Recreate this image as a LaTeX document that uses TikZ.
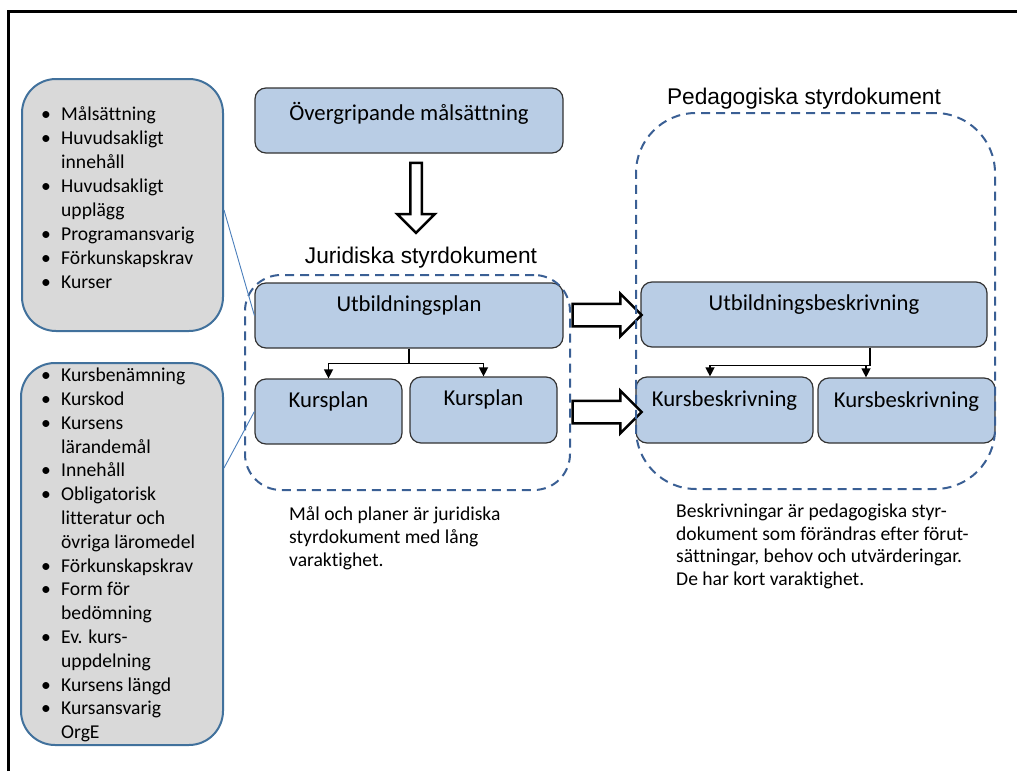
\documentclass[tikz,border=0pt]{standalone}
\usepackage{fontspec}
\setmainfont{Carlito}[Ligatures={NoCommon}]
\newfontfamily\arialfont{Liberation Sans}
\usetikzlibrary{arrows.meta,shapes.arrows}

\definecolor{boxblue}{HTML}{B9CDE5}
\definecolor{boxgray}{HTML}{D9D9D9}
\definecolor{edgeblue}{HTML}{41719C}
\definecolor{dashblue}{HTML}{3A5F94}
\definecolor{linkblue}{HTML}{4A7EBB}

% bullet marker of the list boxes
\newcommand\bulletmark{\makebox[20pt][l]{\textbullet}}

\begin{document}
\begin{tikzpicture}[x=1pt,y=-1pt,
  docbox/.style={draw=black!80, line width=1.2pt, fill=boxblue, rounded corners=11pt, inner sep=0pt},
  listbox/.style={draw=edgeblue, line width=2pt, fill=boxgray, rounded corners=34pt, inner sep=0pt},
  groupbox/.style={draw=dashblue, line width=2pt, dash pattern=on 9pt off 6pt, inner sep=0pt},
  boxtext/.style={font=\fontsize{22.7}{27}\selectfont, anchor=base, inner sep=0pt},
  titletext/.style={font=\arialfont\fontsize{22.7}{27}\selectfont, anchor=base, inner sep=0pt},
  listtext/.style={anchor=base west, inner sep=0pt},
  notetext/.style={anchor=base west, inner sep=0pt},
  conn/.style={draw=black, line width=1.3pt, -{Triangle[length=9pt,width=9pt]}},
  link/.style={draw=linkblue, line width=0.9pt},
  bigarrow/.style={single arrow, draw=black, fill=white, line width=2.5pt,
    single arrow tip angle=90}
]
\useasboundingbox (0,0) rectangle (1017,771);

% page frame
\draw[line width=3pt, miter limit=10] (8,771) -- (8,11) -- (1017,11);

% list boxes
\node[listbox, minimum width=201pt, minimum height=252pt] (g1) at (122.5,205) {};
\node[listbox, minimum width=202pt, minimum height=382pt] (g2) at (122,554) {};

\node[listtext] (l1) at (41,120) {\fontsize{19.6}{24.1}\selectfont
  \begin{tabular}[t]{@{}l@{}l@{}}
  \bulletmark & Målsättning\\
  \bulletmark & Huvudsakligt\\
              & innehåll\\
  \bulletmark & Huvudsakligt\\
              & upplägg\\
  \bulletmark & Programansvarig\\
  \bulletmark & Förkunskapskrav\\
  \bulletmark & Kurser
  \end{tabular}};

\node[listtext] (l2) at (41,381.7) {\fontsize{19.6}{23.8}\selectfont
  \begin{tabular}[t]{@{}l@{}l@{}}
  \bulletmark & Kursbenämning\\
  \bulletmark & Kurskod\\
  \bulletmark & Kursens\\
              & lärandemål\\
  \bulletmark & Innehåll\\
  \bulletmark & Obligatorisk\\
              & litteratur och\\
              & övriga läromedel\\
  \bulletmark & Förkunskapskrav\\
  \bulletmark & Form för\\
              & bedömning\\
  \bulletmark & Ev. kurs-\\
              & uppdelning\\
  \bulletmark & Kursens längd\\
  \bulletmark & Kursansvarig\\
              & OrgE
  \end{tabular}};

% document boxes
\node[docbox, minimum width=308pt, minimum height=65pt] (ov) at (409,120.5) {};
\node[docbox, minimum width=308pt, minimum height=65pt] (up) at (409,315.5) {};
\node[docbox, minimum width=147pt, minimum height=65pt] (kp1) at (328.5,411.5) {};
\node[docbox, minimum width=147pt, minimum height=66pt] (kp2) at (483.5,410) {};
\node[docbox, minimum width=346pt, minimum height=65pt] (ub) at (814,314.5) {};
\node[docbox, minimum width=177pt, minimum height=66pt] (kb1) at (724.5,410) {};
\node[docbox, minimum width=177pt, minimum height=65pt] (kb2) at (906.5,410.5) {};

\node[boxtext] (ovt) at ([yshift=-33pt]ov.north) {Övergripande målsättning};
\node[boxtext] (upt) at ([yshift=-29pt]up.north) {Utbildningsplan};
\node[boxtext] (kp1t) at ([yshift=-29pt]kp1.north) {Kursplan};
\node[boxtext] (kp2t) at ([yshift=-29.5pt]kp2.north) {Kursplan};
\node[boxtext] (ubt) at ([yshift=-29.5pt]ub.north) {Utbildningsbeskrivning};
\node[boxtext] (kb1t) at ([yshift=-30pt]kb1.north) {Kursbeskrivning};
\node[boxtext] (kb2t) at ([yshift=-30.5pt]kb2.north) {Kursbeskrivning};

% block arrows
\node[bigarrow, minimum height=70pt, inner sep=4.5pt, single arrow head extend=13pt,
  shape border rotate=270] (down) at (416,195) {};
\node[bigarrow, minimum height=69pt, inner sep=10pt, single arrow head extend=10pt] (ra1) at (601.5,315) {};
\node[bigarrow, minimum height=69pt, inner sep=10pt, single arrow head extend=10pt] (ra2) at (601.5,412) {};

% dashed groups
\node[groupbox, rounded corners=36pt, minimum width=325pt, minimum height=215pt] (jur) at (407.5,382.5) {};
\node[groupbox, rounded corners=60pt, minimum width=359pt, minimum height=376pt] (ped) at (815.5,301) {};

\node[titletext] (jurt) at (421,263) {Juridiska styrdokument};
\node[titletext] (pedt) at (804,104.3) {Pedagogiska styrdokument};

% connectors
\draw[conn] (up.south) -- ++(0,15) -| (kp1.north);
\draw[conn] (up.south) -- ++(0,15) -| (kp2.north);
\draw[conn] ([xshift=56pt]ub.south) -- ++(0,18) -| ([xshift=-14.5pt]kb1.north);
\draw[conn] ([xshift=56pt]ub.south) -- ++(0,18) -| ([xshift=-40.5pt]kb2.north);

% callout lines
\draw[link] ([yshift=-5pt]g1.east) -- (up.west);
\draw[link] ([yshift=86pt]g2.east) -- (kp1.west);

% notes
\node[notetext] (n1) at (289,520.7) {\fontsize{19.6}{22.7}\selectfont
  \begin{tabular}[t]{@{}l@{}}
  Mål och planer är juridiska\\
  styrdokument med lång\\
  varaktighet.
  \end{tabular}};
\node[notetext] (n2) at (676,517.3) {\fontsize{19.6}{22.7}\selectfont
  \begin{tabular}[t]{@{}l@{}}
  Beskrivningar är pedagogiska styr-\\
  dokument som förändras efter förut-\\
  sättningar, behov och utvärderingar.\\
  De har kort varaktighet.
  \end{tabular}};
\end{tikzpicture}
\end{document}
